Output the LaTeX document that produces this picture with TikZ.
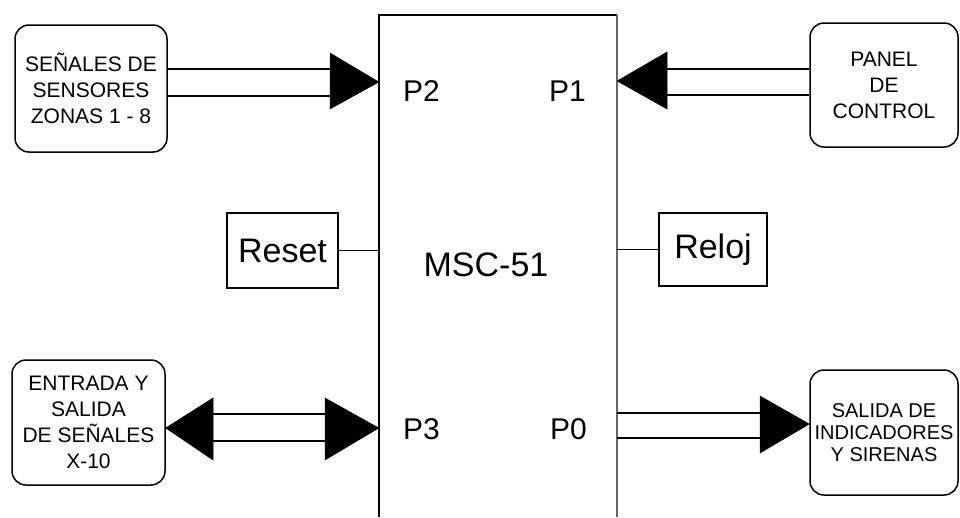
\documentclass[tikz,border=0pt]{standalone}
\usepackage{fontspec}
\setmainfont{Liberation Sans}
\usetikzlibrary{calc}
\begin{document}
\begin{tikzpicture}[x=1pt,y=-1pt,
  rbox/.style={draw, line width=1.5pt, rounded corners=14pt, align=center, inner sep=0pt, font=\fontsize{21}{26}\selectfont},
  sbox/.style={draw, line width=1.3pt, inner sep=0pt, font=\fontsize{34}{40}\selectfont},
  portlbl/.style={font=\fontsize{30}{36}\selectfont, inner sep=0pt},
  bus/.style={line width=2.5pt},
  head/.style={fill=black, draw=black, line width=0.5pt, line join=miter},
  thin link/.style={line width=1.3pt}]
\useasboundingbox (0,0) rectangle (960,517);

% main controller (open at the bottom)
\node[draw=none, minimum width=238pt, minimum height=502pt, inner sep=0pt] (mcu) at (498,266) {};
\draw[line width=2pt] (mcu.south west) -- (mcu.north west) -- (mcu.north east);
\draw[line width=2pt, black!60] (mcu.north east) -- (mcu.south east);
\node[font=\fontsize{34}{40}\selectfont, inner sep=0pt] (msc) at (486,265) {MSC-51};

% port labels
\node[portlbl] (p2) at (421.5,91) {P2};
\node[portlbl] (p1) at (567.5,91) {P1};
\node[portlbl] (p3) at (421.5,429) {P3};
\node[portlbl] (p0) at (568.5,429) {P0};

% peripheral blocks
\node[rbox, minimum width=152pt, minimum height=127pt] (sens) at (91,88.5) {SEÑALES DE\\SENSORES\\ZONAS 1 - 8};
\node[rbox, minimum width=148pt, minimum height=124pt] (panel) at (884,85) {PANEL\\DE\\CONTROL};
\node[rbox, minimum width=153pt, minimum height=125pt] (entrada) at (88.5,422.5) {ENTRADA Y\\SALIDA\\DE SEÑALES\\X-10};
\node[rbox, minimum width=148pt, minimum height=125pt, font=\fontsize{20}{22}\selectfont] (salida) at (884,432.5) {SALIDA DE\\INDICADORES\\Y SIRENAS};
\node[sbox, minimum width=111pt, minimum height=75pt] (reset) at (282.5,250.5) {Reset};
\node[sbox, minimum width=108pt, minimum height=73pt] (reloj) at (713,249.5) {Reloj};

% Reset / Reloj links
\draw[thin link] (reset.east) -- (mcu.west |- reset.east);
\draw[thin link] (reloj.west) -- (mcu.east |- reloj.west);

% sensors -> P2
\coordinate (t2) at (mcu.west |- 0,82);
\draw[bus] (sens.east |- 0,69) -- (332,69);
\draw[bus] (sens.east |- 0,96) -- (332,96);
\fill[head] (330,53) -- (t2) -- (330,109) -- cycle;

% panel -> P1
\coordinate (t1) at (mcu.east |- 0,81);
\draw[bus] (panel.west |- 0,69) -- (665,69);
\draw[bus] (panel.west |- 0,95) -- (665,95);
\fill[head] (667,52) -- (t1) -- (667,109) -- cycle;

% entrada <-> P3
\coordinate (t3l) at (entrada.east |- 0,428);
\coordinate (t3r) at (mcu.west |- 0,428);
\draw[bus] (211,414) -- (327,414);
\draw[bus] (211,441) -- (327,441);
\fill[head] (213,398) -- (t3l) -- (213,460) -- cycle;
\fill[head] (325,398) -- (t3r) -- (325,460) -- cycle;

% P0 -> salida
\coordinate (t0) at (salida.west |- 0,424);
\draw[bus] (mcu.east |- 0,413) -- (762,413);
\draw[bus] (mcu.east |- 0,438) -- (762,438);
\fill[head] (760,396) -- (t0) -- (760,453) -- cycle;
\end{tikzpicture}
\end{document}
